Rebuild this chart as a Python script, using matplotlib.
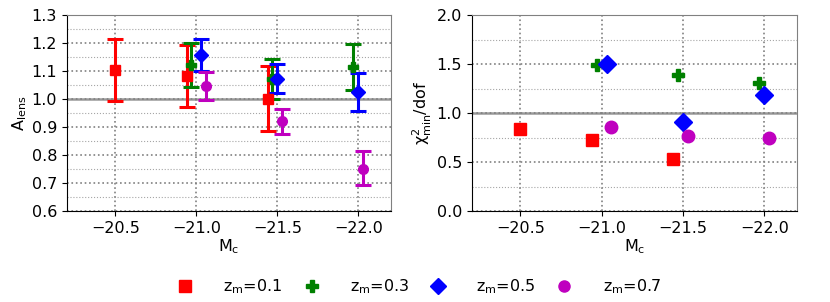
import numpy as np
import matplotlib
matplotlib.use("Agg")
import matplotlib.pyplot as plt
from matplotlib.lines import Line2D
from matplotlib.ticker import MultipleLocator

plt.rcParams["mathtext.default"] = "regular"
plt.rcParams["font.size"] = 11.5

# 各紅移樣本：M_c 位置、A_lens 與誤差、chi2/dof
labels = ["z_m=0.1", "z_m=0.3", "z_m=0.5", "z_m=0.7"]
colors = ["red", "green", "blue", "m"]
markers = ["s", "P", "D", "o"]

mc = [
    [-20.50, -20.94, -21.44],
    [-20.97, -21.47, -21.97],
    [-21.03, -21.50, -22.00],
    [-21.06, -21.53, -22.03],
]
alens = [
    [1.104, 1.082, 1.001],
    [1.121, 1.071, 1.113],
    [1.156, 1.073, 1.025],
    [1.046, 0.920, 0.752],
]
alens_hi = [
    [1.215, 1.194, 1.117],
    [1.199, 1.143, 1.195],
    [1.213, 1.126, 1.093],
    [1.098, 0.964, 0.814],
]
alens_lo = [
    [0.993, 0.971, 0.887],
    [1.043, 1.000, 1.033],
    [1.099, 1.021, 0.957],
    [0.998, 0.877, 0.692],
]
chi2 = [
    [0.837, 0.724, 0.531],
    [1.486, 1.388, 1.306],
    [1.503, 0.908, 1.187],
    [0.861, 0.765, 0.745],
]

fig = plt.figure(figsize=(8.3, 3.02), dpi=100)
ax1 = fig.add_axes([0.0804, 0.301, 0.3903, 0.649])
ax2 = fig.add_axes([0.5683, 0.301, 0.3916, 0.649])

for i in range(4):
    y = np.array(alens[i])
    yerr = [y - np.array(alens_lo[i]), np.array(alens_hi[i]) - y]
    ax1.errorbar(mc[i], y, yerr=yerr, fmt=markers[i], color=colors[i], ms=7,
                 elinewidth=2.2, capsize=6, capthick=2.2, zorder=3)
    ax2.plot(mc[i], chi2[i], markers[i], color=colors[i], ms=9, zorder=3)

for ax in (ax1, ax2):
    ax.set_xlim(-20.2, -22.2)
    ax.set_xticks([-20.5, -21.0, -21.5, -22.0])
    ax.axhline(1.0, color="grey", lw=1.8, alpha=0.8, zorder=1)
    ax.grid(True, which="major", ls=":", color="grey", lw=1.2)
    ax.grid(True, which="minor", axis="y", ls=":", color="grey", lw=0.8, alpha=0.7)
    ax.tick_params(which="minor", left=False)
    ax.set_xlabel("$M_c$", labelpad=1)
    for s in ("top", "right"):
        ax.spines[s].set_color("grey")

ax1.set_ylim(0.6, 1.3)
ax1.yaxis.set_major_locator(MultipleLocator(0.1))
ax1.yaxis.set_minor_locator(MultipleLocator(0.05))
ax1.set_ylabel("$A_{lens}$", labelpad=2)

ax2.set_ylim(0.0, 2.0)
ax2.yaxis.set_major_locator(MultipleLocator(0.5))
ax2.yaxis.set_minor_locator(MultipleLocator(0.25))
ax2.set_ylabel("$\\chi^2_{min}$/dof", labelpad=2)

handles = [Line2D([], [], ls="none", marker=markers[i], color=colors[i], ms=8)
           for i in range(4)]
fig.legend(handles, ["$" + l.split("=")[0] + "$=" + l.split("=")[1] for l in labels],
           loc="center", bbox_to_anchor=(0.5, 0.05), ncol=4, frameon=False,
           columnspacing=0.8, handletextpad=1.4)

fig.savefig("out.png", dpi=100)
